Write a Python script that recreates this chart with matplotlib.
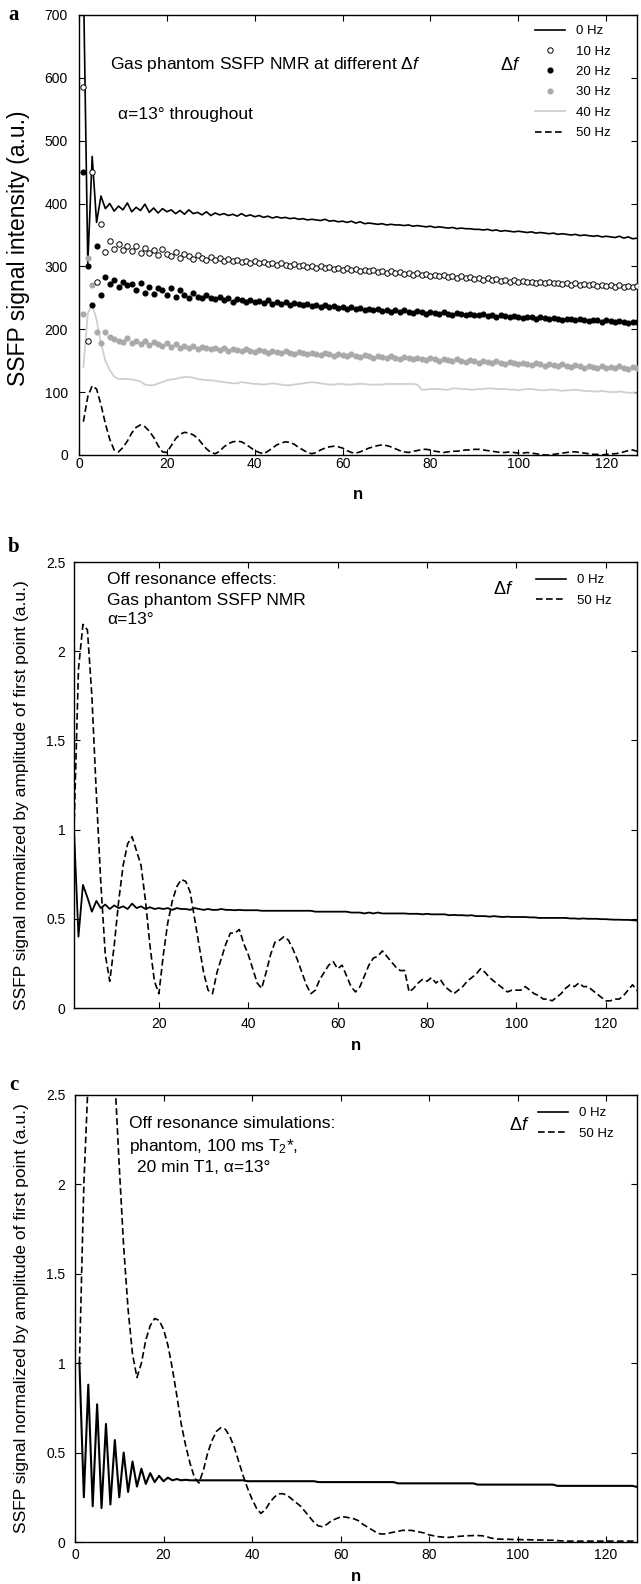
import numpy as np
import matplotlib
matplotlib.use("Agg")
from matplotlib import pyplot as plt
from matplotlib.lines import Line2D

plt.rcParams['font.family'] = ['Liberation Sans', 'DejaVu Sans']
plt.rcParams['mathtext.fontset'] = 'custom'
plt.rcParams['mathtext.rm'] = 'Liberation Sans'
plt.rcParams['mathtext.it'] = 'Liberation Sans:italic'
plt.rcParams['mathtext.bf'] = 'Liberation Sans:bold'

# pulse index
n = np.arange(1, 129)

# (a) raw SSFP signal, a.u.
a_0hz = [760, 305, 475, 370, 412, 392, 400, 388, 396, 390,
         401, 387, 394, 389, 399, 386, 393, 385, 392, 387,
         390, 384, 389, 383, 390, 384, 386, 382, 387, 381,
         385, 382, 384, 381, 383, 380, 384, 380, 382, 379,
         381, 378, 380, 377, 379, 377, 378, 376, 377, 375,
         376, 374, 375, 374, 373, 375, 372, 373, 371, 372,
         370, 372, 369, 371, 368, 369, 368, 367, 368, 366,
         367, 366, 366, 365, 366, 364, 365, 364, 363, 364,
         362, 363, 362, 361, 362, 360, 361, 360, 360, 359,
         359, 358, 359, 357, 358, 356, 357, 356, 355, 356,
         355, 354, 355, 353, 354, 353, 352, 353, 351, 352,
         351, 350, 351, 349, 350, 349, 348, 349, 347, 348,
         347, 346, 348, 345, 347, 344, 345, 344]
a_10hz = [585, 182, 450, 275, 368, 323, 340, 328, 336, 326,
          332, 325, 333, 322, 330, 321, 326, 318, 327, 320,
          316, 323, 314, 319, 316, 312, 318, 313, 311, 315,
          311, 313, 309, 312, 308, 311, 307, 309, 306, 308,
          305, 307, 304, 306, 302, 305, 303, 301, 304, 300,
          302, 299, 301, 298, 300, 297, 299, 296, 298, 295,
          297, 294, 296, 293, 295, 292, 294, 291, 293, 290,
          292, 289, 291, 288, 290, 287, 289, 286, 288, 285,
          287, 284, 286, 283, 285, 282, 284, 281, 283, 280,
          282, 279, 281, 278, 280, 277, 279, 276, 278, 276,
          277, 275, 276, 274, 276, 273, 275, 273, 274, 272,
          274, 271, 273, 271, 272, 270, 272, 269, 271, 269,
          270, 268, 270, 268, 269, 267, 269, 268]
a_20hz = [450, 300, 238, 333, 255, 283, 272, 278, 268, 275,
          270, 272, 262, 273, 258, 268, 256, 266, 262, 254,
          265, 252, 262, 255, 250, 258, 252, 249, 254, 250,
          248, 251, 247, 249, 244, 248, 246, 243, 247, 244,
          245, 242, 246, 241, 243, 240, 244, 239, 242, 240,
          238, 241, 237, 239, 236, 238, 235, 237, 234, 236,
          233, 236, 232, 234, 231, 233, 230, 232, 229, 231,
          228, 231, 227, 230, 228, 226, 229, 227, 225, 228,
          226, 224, 227, 225, 223, 226, 224, 222, 225, 223,
          222, 224, 221, 223, 220, 222, 221, 219, 221, 220,
          218, 220, 219, 217, 219, 218, 216, 218, 217, 215,
          217, 216, 214, 216, 215, 213, 215, 214, 212, 214,
          213, 211, 213, 212, 210, 212, 211, 210]
a_30hz = [225, 313, 270, 195, 178, 196, 188, 185, 182, 180,
          186, 178, 182, 176, 181, 175, 179, 177, 173, 178,
          172, 176, 171, 174, 170, 173, 169, 172, 170, 168,
          171, 167, 170, 166, 169, 167, 165, 168, 166, 164,
          167, 165, 163, 166, 164, 162, 165, 163, 161, 164,
          162, 160, 163, 161, 159, 162, 160, 158, 161, 159,
          157, 160, 158, 156, 159, 157, 155, 158, 156, 154,
          157, 155, 153, 156, 154, 152, 155, 153, 151, 154,
          152, 150, 153, 151, 149, 152, 150, 148, 151, 149,
          147, 150, 148, 146, 149, 147, 145, 148, 146, 144,
          147, 145, 143, 146, 144, 142, 145, 143, 141, 144,
          142, 140, 143, 141, 139, 142, 140, 138, 141, 139,
          140, 138, 141, 139, 137, 140, 138, 139]
a_40hz = [140, 225, 240, 215, 178, 150, 135, 125, 121, 121,
          121, 120, 119, 117, 112, 111, 111, 114, 116, 119,
          120, 121, 123, 124, 124, 123, 121, 120, 119, 119,
          118, 117, 116, 115, 114, 114, 116, 115, 114, 113,
          113, 112, 113, 114, 113, 112, 111, 111, 112, 113,
          114, 115, 116, 115, 114, 113, 112, 112, 113, 113,
          112, 112, 113, 113, 113, 112, 112, 112, 112, 113,
          113, 113, 113, 113, 113, 113, 112, 104, 104, 105,
          105, 105, 104, 104, 106, 106, 105, 105, 104, 104,
          105, 105, 106, 106, 105, 105, 105, 104, 104, 103,
          104, 105, 105, 104, 103, 103, 104, 104, 103, 102,
          103, 103, 104, 103, 102, 102, 101, 101, 102, 101,
          100, 100, 101, 100, 99, 99, 98, 99]
a_50hz = [53, 93, 110, 105, 80, 50, 25, 8, 5, 12,
          22, 35, 44, 48, 45, 38, 28, 15, 5, 4,
          15, 26, 33, 36, 35, 32, 27, 18, 10, 4,
          2, 6, 13, 18, 21, 22, 21, 17, 12, 7,
          4, 2, 6, 11, 16, 19, 21, 20, 17, 12,
          8, 4, 2, 4, 8, 11, 13, 14, 13, 11,
          7, 4, 3, 5, 8, 11, 13, 15, 16, 15,
          13, 10, 7, 5, 4, 6, 7, 9, 9, 8,
          6, 5, 4, 5, 6, 6, 7, 8, 8, 9,
          9, 8, 7, 6, 5, 4, 4, 5, 4, 3,
          3, 4, 3, 2, 1, 0, 0, 1, 2, 3,
          4, 5, 5, 4, 3, 2, 1, 1, 0, 1,
          2, 2, 3, 5, 7, 8, 6, 4]

# (b) measured, normalised by first point
b_0hz = [1.0, 0.40, 0.69, 0.62, 0.54, 0.60, 0.56, 0.58, 0.555, 0.575,
         0.56, 0.57, 0.555, 0.585, 0.56, 0.57, 0.555, 0.565, 0.555, 0.56,
         0.555, 0.56, 0.55, 0.56, 0.555, 0.555, 0.55, 0.56, 0.555, 0.55,
         0.555, 0.55, 0.55, 0.555, 0.55, 0.55, 0.548, 0.55, 0.548, 0.548,
         0.548, 0.548, 0.545, 0.545, 0.545, 0.545, 0.545, 0.545, 0.545, 0.545,
         0.545, 0.545, 0.545, 0.545, 0.54, 0.54, 0.54, 0.54, 0.54, 0.54,
         0.54, 0.54, 0.535, 0.535, 0.535, 0.53, 0.535, 0.53, 0.535, 0.53,
         0.53, 0.53, 0.53, 0.53, 0.53, 0.528, 0.528, 0.528, 0.525, 0.528,
         0.525, 0.525, 0.525, 0.525, 0.52, 0.522, 0.52, 0.52, 0.518, 0.52,
         0.515, 0.515, 0.515, 0.512, 0.515, 0.512, 0.51, 0.512, 0.51, 0.51,
         0.51, 0.51, 0.508, 0.508, 0.505, 0.505, 0.505, 0.505, 0.505, 0.505,
         0.505, 0.502, 0.502, 0.50, 0.502, 0.50, 0.50, 0.50, 0.498, 0.498,
         0.496, 0.495, 0.495, 0.494, 0.494, 0.492, 0.49, 0.495]
b_50hz = [1.0, 1.9, 2.15, 2.12, 1.75, 1.2, 0.7, 0.3, 0.15, 0.35,
          0.6, 0.8, 0.92, 0.96, 0.88, 0.8, 0.6, 0.35, 0.15, 0.08,
          0.3, 0.48, 0.6, 0.68, 0.72, 0.71, 0.65, 0.5, 0.35, 0.2,
          0.1, 0.08, 0.2, 0.28, 0.36, 0.42, 0.42, 0.44, 0.36, 0.3,
          0.22, 0.14, 0.11, 0.2, 0.3, 0.37, 0.38, 0.40, 0.38, 0.33,
          0.27, 0.2, 0.13, 0.08, 0.1, 0.16, 0.2, 0.24, 0.26, 0.22,
          0.24, 0.18, 0.12, 0.09, 0.12, 0.18, 0.24, 0.28, 0.29, 0.32,
          0.29, 0.26, 0.23, 0.21, 0.21, 0.09, 0.11, 0.14, 0.16, 0.15,
          0.17, 0.14, 0.16, 0.12, 0.1, 0.08, 0.1, 0.12, 0.15, 0.17,
          0.19, 0.22, 0.2, 0.17, 0.15, 0.13, 0.11, 0.09, 0.1, 0.1,
          0.1, 0.12, 0.1, 0.08, 0.07, 0.05, 0.05, 0.04, 0.06, 0.08,
          0.11, 0.13, 0.12, 0.14, 0.12, 0.12, 0.1, 0.08, 0.06, 0.04,
          0.04, 0.05, 0.05, 0.07, 0.1, 0.13, 0.1, 0.06]

# (c) simulation, normalised by first point
c_0hz = [1.0, 0.25, 0.88, 0.20, 0.77, 0.19, 0.66, 0.21, 0.57, 0.25,
         0.50, 0.28, 0.45, 0.31, 0.41, 0.325, 0.385, 0.335, 0.37, 0.34,
         0.36, 0.345, 0.352, 0.345, 0.348, 0.345, 0.345, 0.345, 0.345, 0.345,
         0.345, 0.345, 0.345, 0.345, 0.345, 0.345, 0.345, 0.345, 0.34, 0.34,
         0.34, 0.34, 0.34, 0.34, 0.34, 0.34, 0.34, 0.34, 0.34, 0.34,
         0.34, 0.34, 0.34, 0.34, 0.335, 0.335, 0.335, 0.335, 0.335, 0.335,
         0.335, 0.335, 0.335, 0.335, 0.335, 0.335, 0.335, 0.335, 0.335, 0.335,
         0.335, 0.335, 0.328, 0.328, 0.328, 0.328, 0.328, 0.328, 0.328, 0.328,
         0.328, 0.328, 0.328, 0.328, 0.328, 0.328, 0.328, 0.328, 0.328, 0.328,
         0.321, 0.321, 0.321, 0.321, 0.321, 0.321, 0.321, 0.321, 0.321, 0.321,
         0.321, 0.321, 0.321, 0.321, 0.321, 0.321, 0.321, 0.321, 0.314, 0.314,
         0.314, 0.314, 0.314, 0.314, 0.314, 0.314, 0.314, 0.314, 0.314, 0.314,
         0.314, 0.314, 0.314, 0.314, 0.314, 0.314, 0.308, 0.308]
c_50hz = [1.0, 2.0, 2.6, 3.0, 3.25, 3.3, 3.2, 3.0, 2.6, 2.1,
          1.65, 1.3, 1.05, 0.92, 1.0, 1.13, 1.21, 1.25, 1.24, 1.19,
          1.1, 0.97, 0.82, 0.66, 0.54, 0.44, 0.36, 0.33, 0.40, 0.50,
          0.57, 0.62, 0.64, 0.63, 0.59, 0.53, 0.45, 0.37, 0.30, 0.24,
          0.19, 0.16, 0.18, 0.22, 0.25, 0.27, 0.27, 0.26, 0.24, 0.22,
          0.20, 0.17, 0.14, 0.11, 0.09, 0.085, 0.10, 0.12, 0.13, 0.14,
          0.14, 0.135, 0.13, 0.12, 0.10, 0.085, 0.07, 0.055, 0.045, 0.045,
          0.05, 0.055, 0.06, 0.065, 0.065, 0.065, 0.06, 0.055, 0.05, 0.04,
          0.035, 0.03, 0.028, 0.025, 0.027, 0.03, 0.032, 0.034, 0.035, 0.036,
          0.036, 0.035, 0.03, 0.022, 0.018, 0.016, 0.015, 0.015, 0.014, 0.014,
          0.013, 0.013, 0.012, 0.012, 0.011, 0.011, 0.01, 0.01, 0.008, 0.006,
          0.005, 0.005, 0.005, 0.005, 0.005, 0.005, 0.005, 0.005, 0.005, 0.005,
          0.005, 0.005, 0.005, 0.005, 0.005, 0.005, 0.005, 0.005]

legend_a = ["0 Hz", "10 Hz", "20 Hz", "30 Hz", "40 Hz", "50 Hz"]
legend_bc = ["0 Hz", "50 Hz"]
norm_ticks = [0, 0.5, 1, 1.5, 2, 2.5]
norm_ticklabels = ["0", "0.5", "1", "1.5", "2", "2.5"]

W, H = 641, 1584
GRAY = "#a9a9a9"
LIGHT = "#cfcfcf"
DASH = (0, (4, 2))


def fx(px):
    return px / W


def fy(py):
    return 1 - py / H


def style(ax, xpad, ypad):
    ax.tick_params(direction="in", length=4, width=0.8, top=True, right=True,
                   labelsize=10, colors="black")
    ax.tick_params(axis="x", pad=xpad)
    ax.tick_params(axis="y", pad=ypad)
    for s in ax.spines.values():
        s.set_linewidth(1.0)


def lgd(ax, handles, labels, x, y):
    ax.legend(handles, labels, loc="upper left", bbox_to_anchor=(fx(x), fy(y)),
              bbox_transform=fig.transFigure, frameon=False, fontsize=9.5,
              handlelength=2.3, handletextpad=0.8, labelspacing=0.62,
              borderpad=0, borderaxespad=0, numpoints=1)


fig = plt.figure(figsize=(W / 100, H / 100), dpi=100)

# ---- panel a ----
axA = fig.add_axes([fx(79), fy(455), fx(637) - fx(79), fy(15) - fy(455)])
axA.plot(n, a_40hz, color=LIGHT, lw=1.3, zorder=2)
axA.plot(n, a_50hz, color="black", lw=1.2, ls=DASH, zorder=2)
axA.plot(n, a_0hz, color="black", lw=1.2, zorder=3)
axA.plot(n, a_30hz, ls="none", marker="o", ms=3.4, mfc=GRAY, mec=GRAY, zorder=4)
axA.plot(n, a_20hz, ls="none", marker="o", ms=3.4, mfc="black", mec="black", zorder=4)
axA.plot(n, a_10hz, ls="none", marker="o", ms=3.9, mfc="white", mec="black", mew=0.7, zorder=5)
axA.set_xlim(0, 127)
axA.set_ylim(0, 700)
axA.set_xticks(range(0, 121, 20))
axA.set_yticks(range(0, 701, 100))
style(axA, 1.5, 8)
axA.set_ylabel("SSFP signal intensity (a.u.)", fontsize=16.5)
axA.yaxis.set_label_coords(-0.088, 0.47)
axA.set_xlabel("n", fontsize=12, fontweight="bold")
axA.xaxis.set_label_coords(0.5, -0.072)

hA = [Line2D([], [], color="black", lw=1.2),
      Line2D([], [], ls="none", marker="o", ms=3.9, mfc="white", mec="black", mew=0.7),
      Line2D([], [], ls="none", marker="o", ms=3.4, mfc="black", mec="black"),
      Line2D([], [], ls="none", marker="o", ms=3.4, mfc=GRAY, mec=GRAY),
      Line2D([], [], color=LIGHT, lw=1.3),
      Line2D([], [], color="black", lw=1.2, ls=DASH)]
lgd(axA, hA, legend_a, 535, 25)
fig.text(fx(110), fy(65), r"Gas phantom SSFP NMR at different $\Delta f$",
         fontsize=12.5, va="center")
fig.text(fx(118), fy(115), "\u03b1=13\u00b0 throughout", fontsize=12.5, va="center")
fig.text(fx(500), fy(65), r"$\Delta f$", fontsize=13, va="center")
fig.text(fx(14), fy(15), "a", family="Liberation Serif", fontweight="bold",
         fontsize=15, ha="center", va="center")

# ---- panel b ----
axB = fig.add_axes([fx(74), fy(1008), fx(637) - fx(74), fy(562) - fy(1008)])
axB.plot(n, b_50hz, color="black", lw=1.2, ls=DASH)
axB.plot(n, b_0hz, color="black", lw=1.3)
axB.set_xlim(1, 127)
axB.set_ylim(0, 2.5)
axB.set_xticks(range(20, 121, 20))
axB.set_yticks(norm_ticks)
axB.set_yticklabels(norm_ticklabels)
style(axB, 6.5, 6.2)
axB.set_ylabel("SSFP signal normalized by amplitude of first point (a.u.)", fontsize=12.5)
axB.yaxis.set_label_coords(-0.08, 0.478)
axB.set_xlabel("n", fontsize=12, fontweight="bold")
axB.xaxis.set_label_coords(0.5, -0.067)
hBC = [Line2D([], [], color="black", lw=1.2), Line2D([], [], color="black", lw=1.2, ls=DASH)]
lgd(axB, hBC, legend_bc, 536, 574)
fig.text(fx(107), fy(580), "Off resonance effects:", fontsize=12.5, va="center")
fig.text(fx(107), fy(600), "Gas phantom SSFP NMR", fontsize=12.5, va="center")
fig.text(fx(107), fy(619), "\u03b1=13\u00b0", fontsize=12.5, va="center")
fig.text(fx(493), fy(590), r"$\Delta f$", fontsize=13, va="center")
fig.text(fx(14), fy(547), "b", family="Liberation Serif", fontweight="bold",
         fontsize=15, ha="center", va="center")

# ---- panel c ----
axC = fig.add_axes([fx(75), fy(1542), fx(637) - fx(75), fy(1095) - fy(1542)])
axC.plot(n, c_50hz, color="black", lw=1.2, ls=DASH)
axC.plot(n, c_0hz, color="black", lw=1.5)
axC.set_xlim(0, 127)
axC.set_ylim(0, 2.5)
axC.set_xticks(range(0, 121, 20))
axC.set_yticks(norm_ticks)
axC.set_yticklabels(norm_ticklabels)
style(axC, 4.5, 7)
axC.set_ylabel("SSFP signal normalized by amplitude of first point (a.u.)", fontsize=12.5)
axC.yaxis.set_label_coords(-0.082, 0.5)
axC.set_xlabel("n", fontsize=12, fontweight="bold")
axC.xaxis.set_label_coords(0.5, -0.060)
lgd(axC, hBC, legend_bc, 538, 1107)
fig.text(fx(129), fy(1123), "Off resonance simulations:", fontsize=12.5, va="center")
fig.text(fx(129), fy(1147), r"phantom, 100 ms T$_2$*,", fontsize=12.5, va="center")
fig.text(fx(137), fy(1168), "20 min T1, \u03b1=13\u00b0", fontsize=12.5, va="center")
fig.text(fx(509), fy(1125), r"$\Delta f$", fontsize=13, va="center")
fig.text(fx(14), fy(1085), "c", family="Liberation Serif", fontweight="bold",
         fontsize=15, ha="center", va="center")

fig.savefig("out.png", dpi=100)
